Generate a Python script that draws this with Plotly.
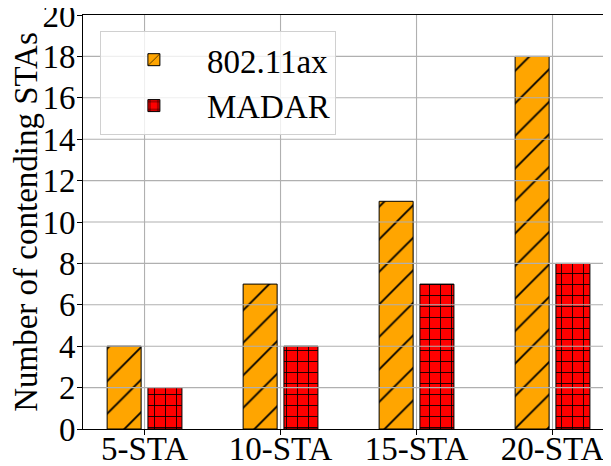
import plotly.graph_objects as go

categories = ["5-STA", "10-STA", "15-STA", "20-STA"]
ax_values = [4, 7, 11, 18]
madar_values = [2, 4, 7, 8]
y_ticks = [0, 2, 4, 6, 8, 10, 12, 14, 16, 18, 20]

FONT = "Liberation Serif"
GRID = "#b0b0b0"

fig = go.Figure()
fig.add_trace(go.Bar(
    x=categories, y=ax_values, name="802.11ax",
    offset=-0.275, width=0.25,
    marker=dict(color="#FFA500", line=dict(color="black", width=1),
                pattern=dict(shape="/", fgcolor="black", fgopacity=1, size=23, solidity=0.08, fillmode="overlay")),
))
fig.add_trace(go.Bar(
    x=categories, y=madar_values, name="MADAR",
    offset=0.025, width=0.25,
    marker=dict(color="#FF0000", line=dict(color="black", width=1),
                pattern=dict(shape="+", fgcolor="black", fgopacity=1, size=11, solidity=0.15, fillmode="overlay")),
))

# grid lines drawn above the bars (as in the reference)
shapes = []
for t in y_ticks[1:-1]:
    shapes.append(dict(type="line", xref="paper", yref="y", x0=0, x1=1, y0=t, y1=t,
                       line=dict(color=GRID, width=1.1), layer="above"))
for c in categories:
    shapes.append(dict(type="line", xref="x", yref="paper", x0=c, x1=c, y0=0, y1=1,
                       line=dict(color=GRID, width=1.1), layer="above"))

fig.update_layout(
    width=603, height=458,
    margin=dict(l=75, r=0, t=7, b=37, autoexpand=False),
    barmode="overlay",
    plot_bgcolor="white", paper_bgcolor="white",
    font=dict(family=FONT, size=33, color="black"),
    legend=dict(x=0.032, y=0.962, xanchor="left", yanchor="top",
                bgcolor="rgba(255,255,255,0.8)", bordercolor="#d0d0d0", borderwidth=1,
                font=dict(family=FONT, size=33), itemwidth=96, tracegroupgap=0),
    showlegend=True,
    shapes=shapes,
)
fig.update_xaxes(
    type="category", range=[-0.4525, 3.43], automargin=False,
    showline=True, linecolor="black", linewidth=1, mirror=True,
    ticks="outside", ticklen=5, tickcolor="black",
    showgrid=False, ticklabeloverflow="allow", ticklabelstandoff=-15,
    tickfont=dict(family=FONT, size=33),
)
fig.update_yaxes(
    range=[0, 20], tickvals=y_ticks, automargin=False,
    showline=True, linecolor="black", linewidth=1, mirror=False,
    ticks="outside", ticklen=5, tickcolor="black",
    showgrid=False, zeroline=False, ticklabeloverflow="allow", ticklabelstandoff=-5,
    tickfont=dict(family=FONT, size=33),
    title=dict(text="Number of contending STAs", font=dict(family=FONT, size=33), standoff=11),
)

fig.write_html("out.html")
